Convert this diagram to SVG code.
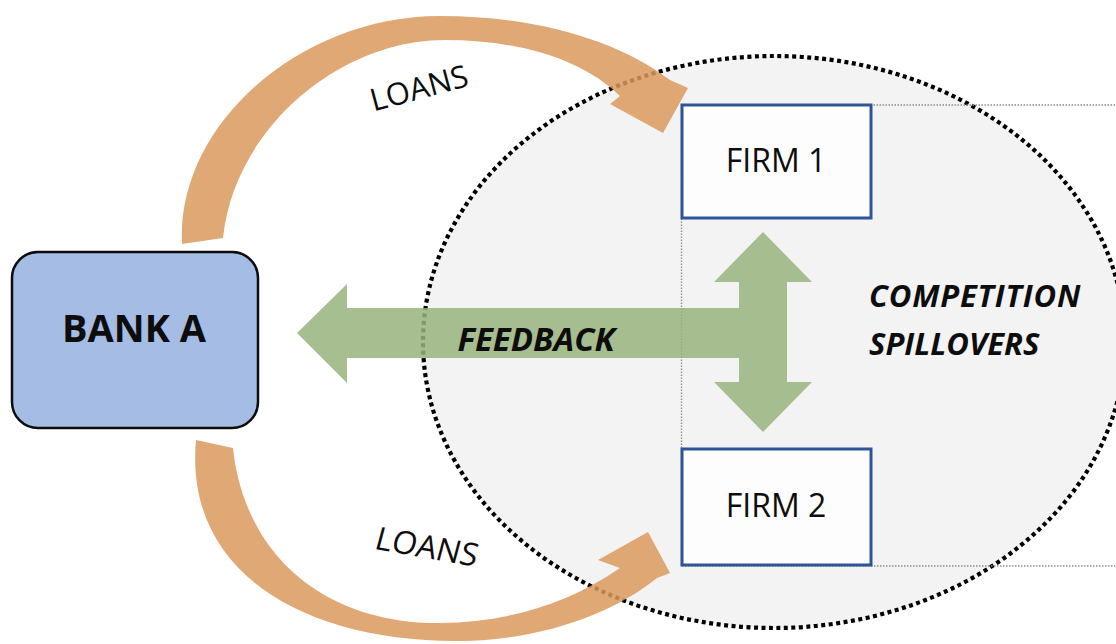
<svg xmlns="http://www.w3.org/2000/svg" width="1116" height="644" viewBox="0 0 1116 644">
  <style>
    .lbl { font-family: "Open Sans", "Liberation Sans", sans-serif; fill: #0d0d0d; }
    .firm-box { fill: #fdfdfd; stroke: #2f5597; stroke-width: 3; }
    .firm-txt { font-size: 32px; text-anchor: middle; }
    .loan { fill: #d9995c; fill-opacity: 0.85; }
    .feedback { fill: #98b37e; fill-opacity: 0.85; }
    .bold-it { font-weight: 700; font-style: italic; }
  </style>

  <rect width="1116" height="644" fill="#ffffff"/>

  <!-- market region: dotted ellipse -->
  <g id="market">
    <ellipse cx="774" cy="342" rx="351" ry="286" fill="#f3f3f3" stroke="#000" stroke-width="4.2" stroke-dasharray="4 3.5"/>
    <rect x="681.5" y="105" width="600" height="461" fill="none" stroke="#8c8c8c" stroke-width="1.3" stroke-dasharray="1.5 1.5"/>
  </g>

  <g id="bank-a">
    <rect x="12" y="252" width="246" height="176" rx="26" ry="26" fill="#a5bce4" stroke="#0d0d0d" stroke-width="2.5"/>
    <text class="lbl" x="134" y="342" font-size="38" font-weight="700" text-anchor="middle">BANK A</text>
  </g>

  <g id="firm-1">
    <rect class="firm-box" x="682" y="105" width="189" height="113"/>
    <text class="lbl firm-txt" x="776" y="172">FIRM 1</text>
  </g>

  <g id="firm-2">
    <rect class="firm-box" x="682" y="449" width="189" height="116"/>
    <text class="lbl firm-txt" x="776" y="517">FIRM 2</text>
  </g>

  <g id="connectors">
    <!-- loans from bank to firm 1 -->
    <path class="loan" d="M 182 244 C 176 125 300 16 440 16 C 540 16 620 42 670 80 L 688 88 L 663 133 L 610 104 L 620 96 C 585 62 525 40 445 40 C 338 40 234 130 223 238 Z"/>
    <!-- loans from bank to firm 2 -->
    <path class="loan" d="M 196 440 C 184 570 300 642 460 641 C 545 640 615 612 657 578 L 670 573 L 648 532 L 598 560 L 620 568 C 565 606 505 622 440 623 C 330 624 245 560 233 448 Z"/>
    <!-- feedback to bank and competition between firms -->
    <polygon class="feedback" points="297,333 347,284 347,308 739,308 739,282 714,282 763,232 812,282 787,282 787,382 812,382 763,432 714,382 739,382 739,358 347,358 347,383"/>
  </g>

  <g id="labels">
    <text class="lbl" x="419" y="99" font-size="31" text-anchor="middle" transform="rotate(-15 419 88)">LOANS</text>
    <text class="lbl" x="0" y="11" font-size="32" text-anchor="middle" transform="translate(427 547) rotate(10) skewX(-5)">LOANS</text>
    <text class="lbl bold-it" x="536" y="351" font-size="33" text-anchor="middle">FEEDBACK</text>
    <text class="lbl bold-it" x="869" y="307" font-size="31" letter-spacing="0.8">COMPETITION</text>
    <text class="lbl bold-it" x="869" y="355" font-size="31">SPILLOVERS</text>
  </g>
</svg>
